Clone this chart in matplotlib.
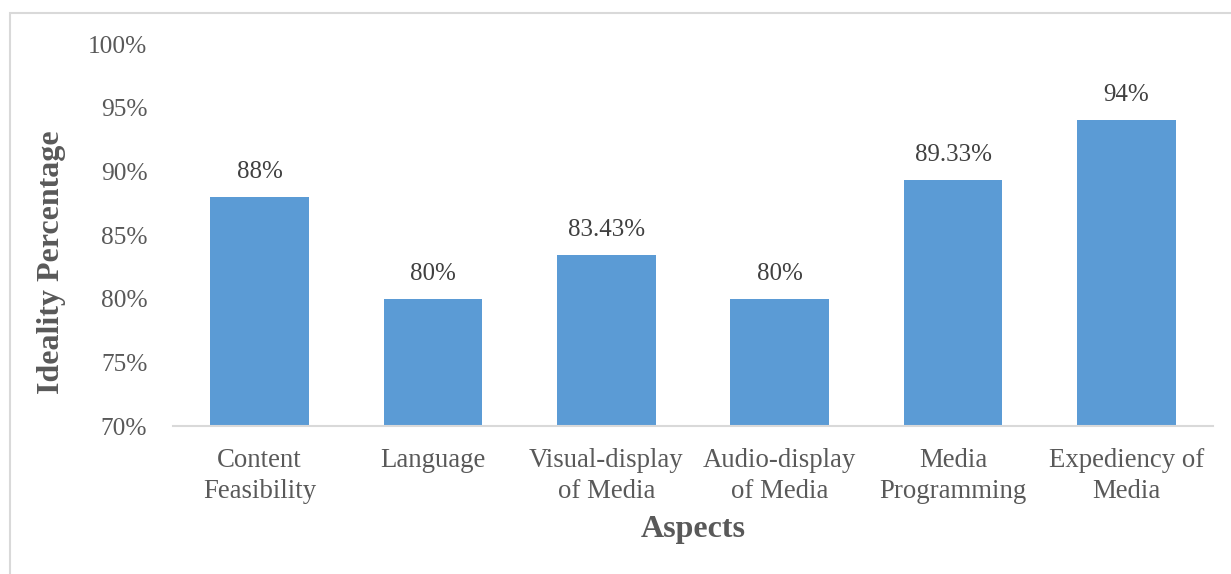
import matplotlib
matplotlib.use("Agg")
import matplotlib.pyplot as plt
from matplotlib.patches import Rectangle
from matplotlib.ticker import FuncFormatter

aspects = ["Content\nFeasibility", "Language", "Visual-display\nof Media",
           "Audio-display\nof Media", "Media\nProgramming", "Expediency of\nMedia"]
values = [88, 80, 83.43, 80, 89.33, 94]
labels = ["88%", "80%", "83.43%", "80%", "89.33%", "94%"]

plt.rcParams['font.family'] = ['Liberation Serif', 'DejaVu Serif']

fig = plt.figure(figsize=(12.31, 5.74), dpi=100)
ax = fig.add_axes([0.1405, 0.2578, 0.8449, 0.6655])

x = range(len(values))
ax.bar(x, [v - 70 for v in values], bottom=70, width=0.57, color='#5B9BD5')

for i, v in enumerate(values):
    ax.annotate(labels[i], (i, v), xytext=(0, 18), textcoords='offset points',
                ha='center', va='center', fontsize=18, color='#404040')

ax.set_ylim(70, 100)
ax.set_xlim(-0.5, len(values) - 0.5)
ax.set_yticks(range(70, 101, 5))
ax.yaxis.set_major_formatter(FuncFormatter(lambda v, p: '%d%%' % v))
ax.set_xticks(list(x))
ax.set_xticklabels(aspects, fontsize=19.3, color='#595959', linespacing=1.3)
ax.tick_params(axis='y', labelsize=18.3, labelcolor='#595959', length=0, pad=18.5)
ax.tick_params(axis='x', length=0, pad=16)

for s in ['top', 'right', 'left']:
    ax.spines[s].set_visible(False)
ax.spines['bottom'].set_color('#D9D9D9')
ax.spines['bottom'].set_linewidth(1.5)

fig.text(693 / 1231, 1 - 530 / 574, 'Aspects', fontsize=23, fontweight='bold',
         color='#595959', ha='center', va='center')
fig.text(52 / 1231, 1 - 262 / 574, 'Ideality Percentage', fontsize=23,
         fontweight='bold', color='#595959', ha='center', va='center', rotation=90)

fig.patches.append(Rectangle((10 / 1231, -0.05), 1.0, 1.05 - 13 / 574,
                             transform=fig.transFigure, fill=False,
                             edgecolor='#D9D9D9', linewidth=1.5))

fig.savefig('out.png', dpi=100)
